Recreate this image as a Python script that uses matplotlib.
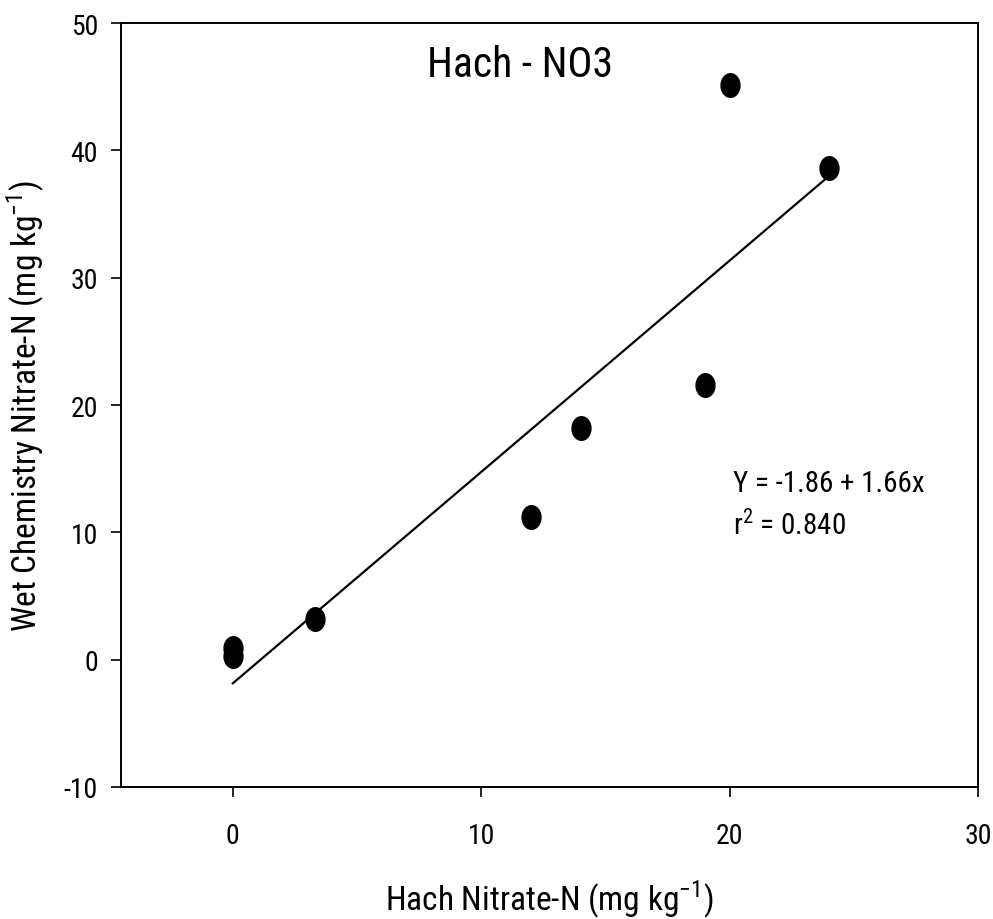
import matplotlib

matplotlib.use("Agg")
import matplotlib.pyplot as plt
import numpy as np
from matplotlib import font_manager
from matplotlib.path import Path
from matplotlib.transforms import Affine2D

# values
hach_no3 = [0.0, 0.0, 3.3, 12.0, 14.0, 19.0, 20.0, 24.0]
wet_no3 = [0.3, 0.9, 3.2, 11.2, 18.2, 21.6, 45.1, 38.6]
intercept, slope = -1.86, 1.66
r_squared = 0.840
x_ticks = [0, 10, 20, 30]
y_ticks = [-10, 0, 10, 20, 30, 40, 50]

# the original uses Arial Narrow; take a condensed face if one is around
names = {f.name for f in font_manager.fontManager.ttflist}
narrow = [n for n in ("Liberation Sans Narrow", "Arial Narrow", "Roboto Condensed",
                      "Noto Sans Condensed", "Open Sans Condensed") if n in names]
if narrow:
    family = narrow[0]
    fs_tick, fs_label, fs_title, fs_note = 20, 24, 30, 21
else:
    family = "Liberation Sans"
    fs_tick, fs_label, fs_title, fs_note = 18, 20.5, 26, 18

plt.rcParams["font.family"] = [family, "DejaVu Sans"]
plt.rcParams["mathtext.fontset"] = "custom"
plt.rcParams["mathtext.rm"] = family
plt.rcParams["axes.unicode_minus"] = False

# slightly tall dot, like the original export
dot = Path.unit_circle().transformed(Affine2D().scale(0.8, 1.0))

fig = plt.figure(figsize=(9.93, 9.2), dpi=100)
ax = fig.add_axes([121 / 993, 1 - 788 / 920, 857 / 993, 764 / 920])

ax.plot(hach_no3, wet_no3, linestyle="none", marker=dot, markersize=17,
        color="black")
xfit = np.array([min(hach_no3), max(hach_no3)])
ax.plot(xfit, intercept + slope * xfit, color="black", lw=1.6)

ax.set_xlim(-4.5, 30)
ax.set_ylim(-10, 50)
ax.set_xticks(x_ticks)
ax.set_yticks(y_ticks)
ax.tick_params(direction="out", length=7.5, width=1.2, labelsize=fs_tick,
               top=False, right=False)
ax.tick_params(axis="x", pad=18)
ax.tick_params(axis="y", pad=9)
for s in ax.spines.values():
    s.set_linewidth(1.4)

ax.set_xlabel("Hach Nitrate-N (mg kg$^{-1}$)", fontsize=fs_label, labelpad=20)
ax.set_ylabel("Wet Chemistry Nitrate-N (mg kg$^{-1}$)", fontsize=fs_label,
              labelpad=13)

ax.text(0.466, 0.973, "Hach - NO3", transform=ax.transAxes, ha="center",
        va="top", fontsize=fs_title)
ax.text(20.15, 13.9, f"Y = {intercept:.2f} + {slope:.2f}x", fontsize=fs_note,
        va="center")
ax.text(20.15, 10.6, f"r$^2$ = {r_squared:.3f}", fontsize=fs_note, va="center")

fig.savefig("out.png", dpi=100)
